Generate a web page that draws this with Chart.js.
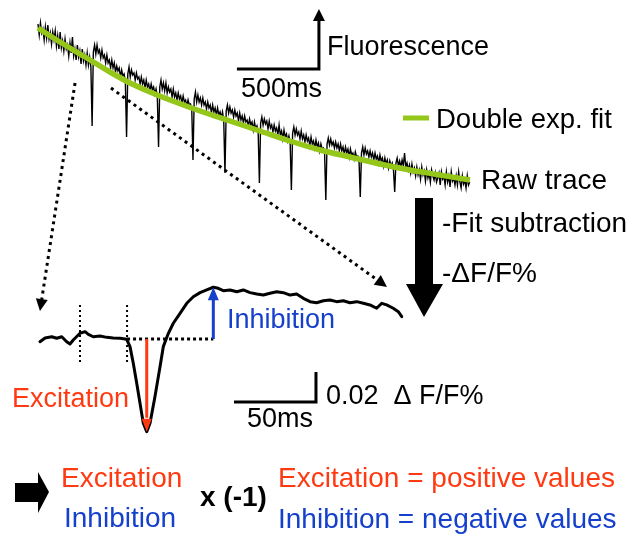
<!DOCTYPE html>
<html>
<head>
<meta charset="utf-8">
<script src="https://cdn.jsdelivr.net/npm/chart.js@4.4.0/dist/chart.umd.min.js"></script>
<style>
  html, body { margin: 0; padding: 0; background: #ffffff; }
  #wrap { width: 627px; height: 534px; }
</style>
</head>
<body>
<div id="wrap"><canvas id="c" width="627" height="534"></canvas></div>
<script>
// ---------- Raw fluorescence trace (a.u.), sampled every RAW_DT ms ----------
const RAW_DT = 7.5;
const rawF = [
  576, 565, 577, 567, 571, 560, 573, 562, 575, 561, 567, 556, 568, 560, 569, 554, 564, 551, 568, 552,
  559, 549, 561, 551, 555, 544, 557, 547, 563, 544, 551, 540, 555, 543, 549, 536, 551, 539, 545, 535,
  547, 535, 543, 533,
  474,
  548, 555, 546, 555, 547, 550, 542, 550, 542, 545, 537, 545, 537, 540, 532, 540, 532, 537, 528, 534,
  529, 532, 523, 530, 524, 526, 519,
  463,
  526, 533, 523, 530, 525, 527, 520, 527, 521, 523, 516, 523, 516, 520, 512, 520, 513, 516, 509, 516,
  510, 513, 506, 511, 504,
  453,
  513, 520, 511, 517, 509, 517, 507, 513, 508, 511, 503, 511, 503, 507, 500, 507, 501, 504, 497, 504,
  498, 500, 494, 500, 495, 496, 491,
  440,
  501, 508, 498, 505, 498, 502, 495, 502, 495, 498, 491, 498, 492, 495, 487, 495, 488, 492, 485, 492,
  485, 488, 482, 488, 480,
  427,
  489, 495, 487, 493, 487, 490, 483, 490, 484, 487, 479, 487, 480, 484, 477, 484, 478, 480, 474, 481,
  475, 478, 470, 478, 471, 474, 468,
  417,
  477, 483, 475, 481, 476, 479, 471, 479, 472, 475, 468, 475, 469, 472, 465, 475, 465, 469, 461, 470,
  463, 466, 459, 464, 457,
  410,
  467, 473, 465, 471, 465, 468, 461, 469, 461, 465, 458, 465, 459, 462, 454, 463, 456, 459, 452, 460,
  453, 457, 449, 456, 451, 452, 447,
  400,
  456, 462, 455, 461, 455, 458, 452, 458, 452, 456, 449, 456, 449, 453, 446, 453, 447, 451, 443, 451,
  445, 447, 441, 448, 443, 444, 439,
  403,
  447, 453, 445, 452, 446, 449, 443, 449, 443, 447, 440, 447, 441, 444, 437, 445, 439, 442, 434, 442,
  436, 440, 432, 439, 434, 437, 430,
  408,
  437, 442, 434, 439, 433, 440, 434, 447, 433, 437, 430, 435, 427, 436, 428, 432, 424, 433, 425, 430,
  421, 433, 425, 429, 419, 430, 422, 427, 418, 430, 424, 420, 427, 418, 422, 427, 415, 428, 421, 424,
  415, 428, 418, 424, 413, 428, 419, 422, 415, 424, 415, 428, 418, 412, 424, 416, 420, 412, 424, 415,
  418
];
const rawTime = rawF.map((_, i) => i * RAW_DT);

// ---------- Double exponential fit of the raw trace ----------
const fitTime = [0, 134, 287, 439, 561, 683, 805, 988, 1171, 1354, 1537, 1720, 1902, 2085, 2268, 2451, 2634];
const fitF    = [572, 558, 543, 528, 517, 508, 500, 489, 479, 469, 459, 450, 443, 436, 430, 425, 420];

// ---------- One response after fit subtraction (ΔF/F) ----------
const zoomTime = [1.2, 4.3, 8.4, 11.4, 14.5, 17.5, 19.5, 21.5, 25.6, 28.7, 30.7, 33.7, 37.8, 41.9, 45.9, 50,
  54.1, 56.1, 58.1, 60.2, 62.2, 64.2, 66.3, 68.3, 71.3, 74.4, 76.4, 79.5, 82.5, 86.6, 90.7, 94.7, 98.8,
  102.9, 106.9, 109.9, 113, 117.1, 121.2, 125.2, 129.3, 133.4, 137.4, 141.5, 145.5, 149.6, 153.7, 157.7,
  161.8, 165.9, 169.9, 174, 178, 182.1, 186.2, 190.2, 194.3, 198.4, 202.4, 206.5, 209.6, 212.6, 216.6,
  219.7, 221.8];
const zoomDFF = [-0.0018, 0.0007, 0.0015, 0.0005, 0.0015, -0.0018, -0.0033, -0.0007, 0.0038, 0.0049, 0.0031,
  0.0015, 0.002, 0.0011, 0.0007, 0.0005, -0.0002, -0.0051, -0.0162, -0.0295, -0.0429, -0.0562, -0.0618,
  -0.0562, -0.0385, -0.0185, -0.0051, 0.0038, 0.0105, 0.0171, 0.0238, 0.0282, 0.0309, 0.0327, 0.0345,
  0.0338, 0.0322, 0.0327, 0.0315, 0.0327, 0.0309, 0.03, 0.0293, 0.0305, 0.0315, 0.0309, 0.0293, 0.03,
  0.0271, 0.0249, 0.0242, 0.0255, 0.026, 0.0249, 0.0255, 0.0242, 0.0249, 0.0238, 0.0227, 0.0205, 0.0238,
  0.0227, 0.0205, 0.0182, 0.0149];

// baseline window edges (ms) and scale bars
const baselineWindow = [25.6, 54.3];
const baselineTicks = [0.0227, -0.0153];        // extent of the window markers (ΔF/F)
const rawBar = { t: 1213, f: 531, ms: 500, fArrow: 60 };
const zoomBar = { t: 169.5, v: -0.042, ms: 50, dff: 0.02 };
// where the two dotted guides leave the raw trace and land on the response
const guides = [
  { from: { t: 226, f: 517 }, to: { t: 1.2, v: 0.0187 } },
  { from: { t: 445, f: 512 }, to: { t: 212.8, v: 0.0347 } }
];

// ---------- derived marks ----------
let iMin = 0, iMax = 0;
zoomDFF.forEach((v, i) => { if (v < zoomDFF[iMin]) iMin = i; if (v > zoomDFF[iMax]) iMax = i; });
const excitation = { t: zoomTime[iMin], v: zoomDFF[iMin] };
const inhibition = { t: zoomTime[iMax], v: zoomDFF[iMax] };

const GREEN = '#95c71a';
const RED = '#ff3a12';
const BLUE = '#1440cc';
const FONT = '"Liberation Sans", Arial, Helvetica, sans-serif';

const pts = (xs, ys) => xs.map((x, i) => ({ x: x, y: ys[i] }));
const onRaw = { xAxisID: 'xRaw', yAxisID: 'yRaw' };
const onZoom = { xAxisID: 'xZoom', yAxisID: 'yZoom' };

const datasets = [
  Object.assign({ data: pts(rawTime, rawF), borderColor: '#000', borderWidth: 1.4, order: 6 }, onRaw),
  Object.assign({ data: pts(fitTime, fitF), borderColor: GREEN, borderWidth: 5.5,
    cubicInterpolationMode: 'monotone', order: 5 }, onRaw),
  Object.assign({ data: [{ x: rawBar.t, y: rawBar.f }, { x: rawBar.t + rawBar.ms, y: rawBar.f },
    { x: rawBar.t + rawBar.ms, y: rawBar.f + rawBar.fArrow - 6 }],
    borderColor: '#000', borderWidth: 3, borderJoinStyle: 'miter', order: 4 }, onRaw),
  Object.assign({ data: [{ x: baselineWindow[1], y: 0 }, { x: inhibition.t, y: 0 }],
    borderColor: '#000', borderWidth: 3, borderDash: [3, 3], order: 4 }, onZoom),
  Object.assign({ data: [{ x: baselineWindow[0], y: baselineTicks[0] }, { x: baselineWindow[0], y: baselineTicks[1] }],
    borderColor: '#000', borderWidth: 2, borderDash: [2, 3], order: 4 }, onZoom),
  Object.assign({ data: [{ x: baselineWindow[1], y: baselineTicks[0] }, { x: baselineWindow[1], y: baselineTicks[1] }],
    borderColor: '#000', borderWidth: 2, borderDash: [2, 3], order: 4 }, onZoom),
  Object.assign({ data: [{ x: zoomBar.t - zoomBar.ms, y: zoomBar.v }, { x: zoomBar.t, y: zoomBar.v },
    { x: zoomBar.t, y: zoomBar.v + zoomBar.dff }],
    borderColor: '#000', borderWidth: 3, borderJoinStyle: 'miter', order: 4 }, onZoom),
  Object.assign({ data: pts(zoomTime, zoomDFF), borderColor: '#000', borderWidth: 3,
    borderJoinStyle: 'round', borderCapStyle: 'round', order: 2 }, onZoom),
  Object.assign({ data: [{ x: excitation.t, y: 0 }, { x: excitation.t, y: excitation.v * 0.85 }],
    borderColor: RED, borderWidth: 3, order: 1 }, onZoom),
  Object.assign({ data: [{ x: inhibition.t, y: 0 }, { x: inhibition.t, y: inhibition.v * 0.8 }],
    borderColor: BLUE, borderWidth: 3, order: 1 }, onZoom)
];

function head(ctx, tx, ty, fx, fy, len, half, color) {
  const a = Math.atan2(ty - fy, tx - fx);
  ctx.save();
  ctx.fillStyle = color;
  ctx.beginPath();
  ctx.moveTo(tx, ty);
  ctx.lineTo(tx - len * Math.cos(a) + half * Math.sin(a), ty - len * Math.sin(a) - half * Math.cos(a));
  ctx.lineTo(tx - len * Math.cos(a) - half * Math.sin(a), ty - len * Math.sin(a) + half * Math.cos(a));
  ctx.closePath();
  ctx.fill();
  ctx.restore();
}

function poly(ctx, p, color) {
  ctx.save();
  ctx.fillStyle = color;
  ctx.beginPath();
  p.forEach((q, i) => i ? ctx.lineTo(q[0], q[1]) : ctx.moveTo(q[0], q[1]));
  ctx.closePath();
  ctx.fill();
  ctx.restore();
}

const texts = [
  { s: 'Fluorescence', x: 327, y: 55, c: '#000', size: 27 },
  { s: '500ms', x: 241, y: 97, c: '#000', size: 27 },
  { s: 'Double exp. fit', x: 436, y: 128, c: '#000', size: 27.5 },
  { s: 'Raw trace', x: 481, y: 189, c: '#000', size: 28 },
  { s: '-Fit subtraction', x: 442, y: 232, c: '#000', size: 28 },
  { s: '-ΔF/F%', x: 442, y: 282, c: '#000', size: 28 },
  { s: 'Inhibition', x: 227, y: 328, c: BLUE, size: 27 },
  { s: 'Excitation', x: 12, y: 407, c: RED, size: 27 },
  { s: '0.02  Δ F/F%', x: 326, y: 404, c: '#000', size: 27 },
  { s: '50ms', x: 247, y: 427, c: '#000', size: 27 },
  { s: 'Excitation', x: 61, y: 487, c: RED, size: 28 },
  { s: 'Inhibition', x: 64, y: 527, c: BLUE, size: 28 },
  { s: 'x (-1)', x: 200, y: 506, c: '#000', size: 28, w: 'bold' },
  { s: 'Excitation = positive values', x: 278, y: 487, c: RED, size: 28 },
  { s: 'Inhibition = negative values', x: 278, y: 528, c: BLUE, size: 28 }
];

const decor = {
  id: 'decor',
  afterDatasetsDraw(chart) {
    const ctx = chart.ctx;
    const s = chart.scales;
    const rx = v => s.xRaw.getPixelForValue(v), ry = v => s.yRaw.getPixelForValue(v);
    const zx = v => s.xZoom.getPixelForValue(v), zy = v => s.yZoom.getPixelForValue(v);

    // fluorescence direction arrow on the raw scale bar
    const bx = rx(rawBar.t + rawBar.ms);
    head(ctx, bx, ry(rawBar.f + rawBar.fArrow), bx, ry(rawBar.f), 12, 6, '#000');

    // excitation / inhibition amplitude arrows
    head(ctx, zx(excitation.t), zy(excitation.v), zx(excitation.t), zy(0), 13, 5, RED);
    head(ctx, zx(inhibition.t), zy(inhibition.v), zx(inhibition.t), zy(0), 13, 5.5, BLUE);

    // dotted guides from the raw trace to the expanded response
    guides.forEach(g => {
      const x0 = rx(g.from.t), y0 = ry(g.from.f), x1 = zx(g.to.t), y1 = zy(g.to.v);
      const a = Math.atan2(y1 - y0, x1 - x0);
      ctx.save();
      ctx.strokeStyle = '#000';
      ctx.lineWidth = 3;
      ctx.setLineDash([3, 4]);
      ctx.beginPath();
      ctx.moveTo(x0, y0);
      ctx.lineTo(x1 - 10 * Math.cos(a), y1 - 10 * Math.sin(a));
      ctx.stroke();
      ctx.restore();
      head(ctx, x1, y1, x0, y0, 12, 6, '#000');
    });

    // processing arrows
    poly(ctx, [[415, 198], [433, 198], [433, 284], [443, 284], [424, 317], [406, 284], [415, 284]], '#000');
    poly(ctx, [[15, 483], [38, 483], [38, 472], [49, 492], [38, 513], [38, 502], [15, 502]], '#000');

    // legend swatch for the fit
    ctx.save();
    ctx.strokeStyle = GREEN;
    ctx.lineWidth = 5;
    ctx.beginPath();
    ctx.moveTo(403, 118);
    ctx.lineTo(429, 118);
    ctx.stroke();
    ctx.restore();

    // labels
    texts.forEach(t => {
      ctx.save();
      ctx.font = (t.w || 'normal') + ' ' + t.size + 'px ' + FONT;
      ctx.fillStyle = t.c;
      ctx.textAlign = 'left';
      ctx.textBaseline = 'alphabetic';
      ctx.fillText(t.s, t.x, t.y);
      ctx.restore();
    });
  }
};

const W = 627, H = 534;
new Chart(document.getElementById('c'), {
  type: 'line',
  data: { datasets: datasets },
  options: {
    responsive: false,
    animation: false,
    devicePixelRatio: 1,
    layout: { padding: 0 },
    elements: { point: { radius: 0, hoverRadius: 0 }, line: { tension: 0, fill: false } },
    plugins: { legend: { display: false }, tooltip: { enabled: false }, title: { display: false } },
    events: [],
    scales: {
      xRaw:  { type: 'linear', axis: 'x', display: false, min: -38 / 0.164, max: (W - 38) / 0.164 },
      yRaw:  { type: 'linear', axis: 'y', display: false, min: 66, max: 600 },
      xZoom: { type: 'linear', axis: 'x', display: false, min: -38 / 1.64, max: (W - 38) / 1.64 },
      yZoom: { type: 'linear', axis: 'y', display: false, min: (339 - H) / 1500, max: 339 / 1500 }
    }
  },
  plugins: [decor]
});
</script>
</body>
</html>
